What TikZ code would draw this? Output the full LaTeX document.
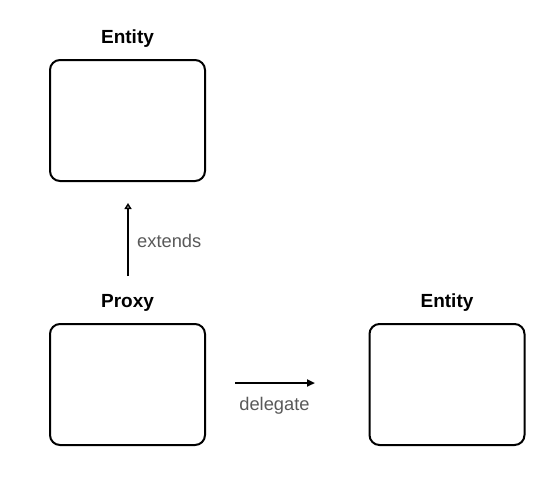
\documentclass[tikz,border=0pt]{standalone}
\usepackage{fontspec}
\setmainfont{Liberation Sans}
\usepackage{xcolor}
\usepackage{tikz}
\usetikzlibrary{arrows.meta, positioning}
\definecolor{ink}{HTML}{000000}
\definecolor{labeltext}{HTML}{595959}
\tikzset{
    classbox/.style={rectangle, rounded corners=10pt, draw=ink, line width=2pt,
                     minimum width=155pt, minimum height=121pt, inner sep=0pt},
    title/.style={font=\fontsize{19}{21}\selectfont\bfseries, inner sep=0pt},
    note/.style={font=\fontsize{18.3}{20}\selectfont, text=labeltext, inner sep=0pt},
    extarr/.style={-{Triangle[open, length=6pt, width=7pt]}, line width=2pt, color=ink},
    delarr/.style={-{Triangle[length=8pt, width=7pt]}, line width=2pt, color=ink},
}
\begin{document}
\begin{tikzpicture}[x=1pt, y=-1pt]
  \useasboundingbox (0,0) rectangle (548,485);

  \node[classbox] (parent) at (127.5,120.5) {};
  \node[title, above=11pt of parent] (parentlbl) {Entity};

  \node[classbox] (proxy) at (127.5,384.5) {};
  \node[title, above=11pt of proxy] (proxylbl) {Proxy};

  \node[classbox] (target) at (447,384.5) {};
  \node[title, above=11pt of target] (targetlbl) {Entity};

  \coordinate (extfrom) at (128,276);
  \coordinate (extto) at (128,203);
  \draw[extarr] (extfrom) -- (extto);
  \node[note, anchor=west] (extlbl) at (137,241) {extends};

  \coordinate (delfrom) at (235,383);
  \coordinate (delto) at (315,383);
  \draw[delarr] (delfrom) -- (delto);
  \node[note, below=14pt of delfrom, xshift=39.5pt] (dellbl) {delegate};

\end{tikzpicture}
\end{document}
